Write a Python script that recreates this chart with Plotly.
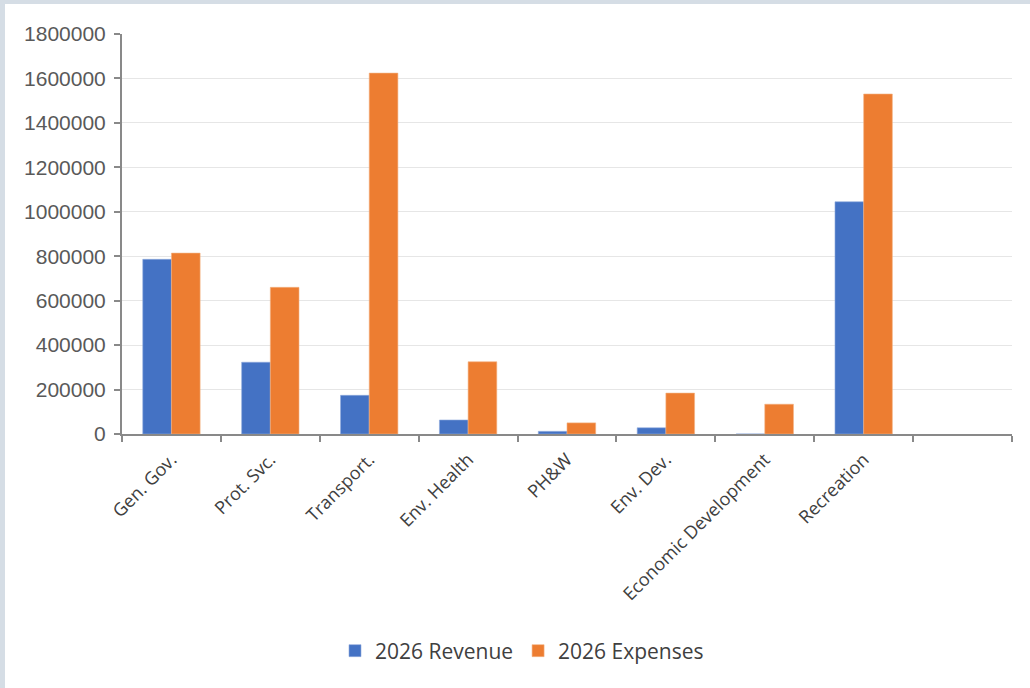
import plotly.graph_objects as go

categories = ["Gen. Gov.", "Prot. Svc.", "Transport.", "Env. Health", "PH&W",
              "Env. Dev.", "Economic Development", "Recreation", " "]
revenue = [786000, 323000, 174000, 63000, 12000, 28000, 0, 1045000, None]
expenses = [814000, 660000, 1624000, 325000, 50000, 184000, 134000, 1530000, None]
y_ticks = [0, 200000, 400000, 600000, 800000, 1000000, 1200000, 1400000, 1600000, 1800000]

W, H = 1030, 688
L, R, T, B = 122, 18, 34, 254
pw, ph = W - L - R, H - T - B

def px_x(p):
    return (p - L) / pw

def px_y(p):
    return (H - B - p) / ph

fig = go.Figure()
fig.add_trace(go.Bar(name="2026 Revenue", x=categories, y=revenue,
                     marker=dict(color="#4472C4", line=dict(color="#8fa9dc", width=0.6))))
fig.add_trace(go.Bar(name="2026 Expenses", x=categories, y=expenses,
                     marker=dict(color="#ED7D31", line=dict(color="#f4b183", width=0.6))))

frame = "#d5dde5"
shapes = [
    dict(type="rect", xref="paper", yref="paper", x0=px_x(0), x1=px_x(5), y0=px_y(H), y1=px_y(0),
         fillcolor=frame, line=dict(width=0), layer="below"),
    dict(type="rect", xref="paper", yref="paper", x0=px_x(0), x1=px_x(W), y0=px_y(4), y1=px_y(0),
         fillcolor=frame, line=dict(width=0), layer="below"),
]

fig.update_layout(
    width=W, height=H,
    margin=dict(l=L, r=R, t=T, b=B),
    paper_bgcolor="white", plot_bgcolor="white",
    barmode="group", bargap=0.42, bargroupgap=0,
    shapes=shapes,
    showlegend=True,
    legend=dict(orientation="h", x=px_x(522), xanchor="center", y=px_y(651), yanchor="middle",
                font=dict(family="Open Sans", size=21, color="#404040"),
                itemwidth=30, traceorder="normal"),
    xaxis=dict(type="category", range=[-0.5, 8.5], tickson="boundaries",
               ticks="outside", ticklen=6, tickwidth=2, tickcolor="#898989",
               showline=True, linecolor="#898989", linewidth=2,
               showgrid=False, tickangle=-45, ticklabelstandoff=6,
               tickfont=dict(family="Open Sans", size=18, color="#404040")),
    yaxis=dict(range=[0, 1800000], tickvals=y_ticks, tickformat="d",
               ticks="outside", ticklen=6, tickwidth=2, tickcolor="#898989",
               showline=True, linecolor="#898989", linewidth=2,
               showgrid=True, gridcolor="#e6e6e6", gridwidth=1, zeroline=False,
               ticklabelstandoff=4,
               tickfont=dict(family="Liberation Sans", size=21, color="#595959")),
)

fig.write_html("out.html")
